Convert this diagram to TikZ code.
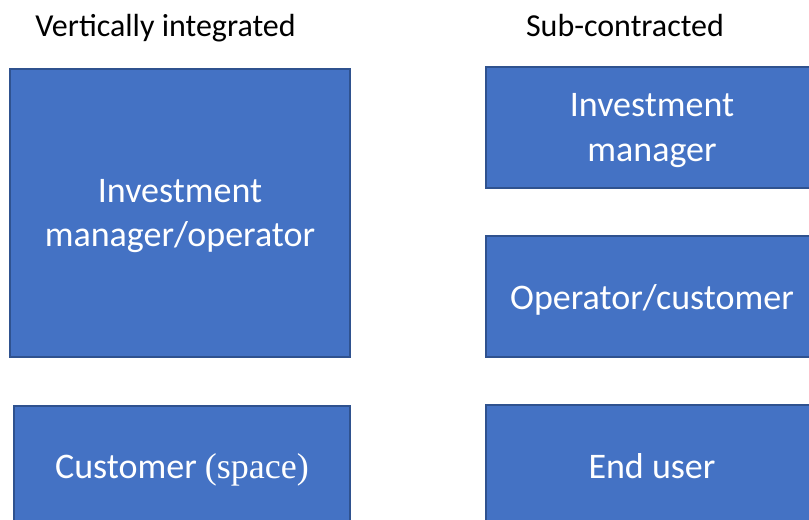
\documentclass[tikz,border=0pt]{standalone}
\usepackage{fontspec}
\setmainfont{Carlito}
\newfontfamily\serifpart{Liberation Serif}
\usepackage{xcolor}
\usetikzlibrary{positioning}

\definecolor{boxfill}{HTML}{4472C4}
\definecolor{boxline}{HTML}{2F528F}

\begin{document}
\begin{tikzpicture}[
  x=0.75pt, y=-0.75pt,
  block/.style={draw=boxline,line width=1.5pt,fill=boxfill,text=white,align=center,
    font=\fontsize{27}{33.5}\selectfont,inner sep=0pt,text depth=0pt},
  head/.style={font=\fontsize{24}{29}\selectfont,inner sep=0pt,text depth=0pt}
]
\useasboundingbox (0,0) rectangle (809,520);
\clip (0,0) rectangle (809,520);

% column titles
\node[head] (vtitle) at (165.5,25) {Vertically integrated};
\node[head] (stitle) at (625,25.5) {Sub-contracted};

% left column
\node[block,minimum width=255pt,minimum height=216pt] (imo) at (180,213) {Investment\\manager/operator};
\node[block,minimum width=252pt,minimum height=90.75pt] (cust) at (182,466.5) {Customer {\serifpart(space)}};

% right column
\node[block,minimum width=249pt,minimum height=90.75pt] (im) at (652,127.5) {Investment\\manager};
\node[block,minimum width=249pt,minimum height=90.75pt] (opc) at (652,296.5) {Operator/customer};
\node[block,minimum width=249pt,minimum height=90.75pt] (eu) at (652,465.5) {End user};
\end{tikzpicture}
\end{document}
